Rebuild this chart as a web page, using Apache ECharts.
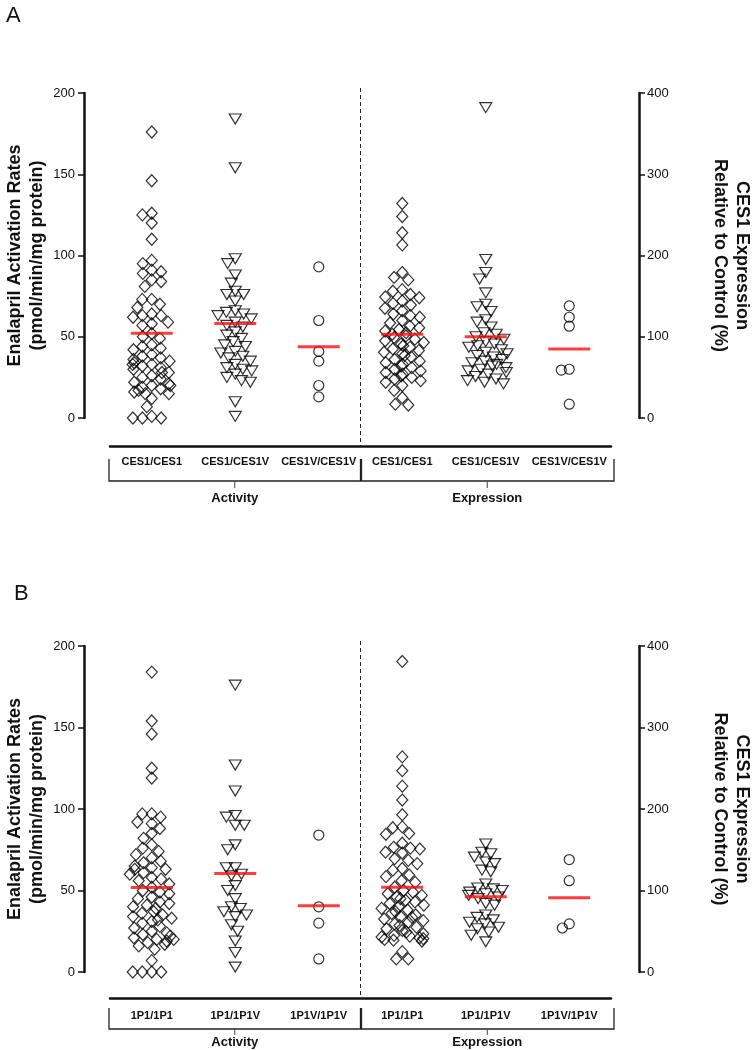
<!DOCTYPE html>
<html>
<head>
<meta charset="utf-8">
<title>Enalapril activation and CES1 expression by genotype</title>
<script src="https://cdn.jsdelivr.net/npm/echarts@6/dist/echarts.min.js"></script>
<style>
  html, body { margin: 0; padding: 0; background: #fff; }
  #chart { width: 754px; height: 1050px; }
</style>
</head>
<body>
<div id="chart"></div>
<script>
// category labels (activity groups then expression groups)
var catsA = ["CES1/CES1", "CES1/CES1V", "CES1V/CES1V", "CES1/CES1", "CES1/CES1V", "CES1V/CES1V"];
var catsB = ["1P1/1P1", "1P1/1P1V", "1P1V/1P1V", "1P1/1P1", "1P1/1P1V", "1P1V/1P1V"];
var leftTicks = [0, 50, 100, 150, 200];
var rightTicks = [0, 100, 200, 300, 400];

// panel A - activity (pmol/min/mg protein)
var actA_11 = [176, 146, 126, 125, 120, 110, 97, 95, 91, 90, 89, 85, 84, 81, 73, 73, 70, 68, 64, 63, 63, 62, 59, 58, 57, 52, 50, 49, 45, 44, 43, 42, 39, 38, 37, 36, 35, 34, 33, 33, 32, 31, 30, 28, 28, 26, 25, 24, 22, 21, 20, 20, 19, 18, 17, 16, 15, 15, 12, 7, 1, 0, 0, 0];
var actA_1V = [184, 154, 98, 95, 88, 83, 78, 76, 76, 72, 66, 65, 64, 63, 61, 59, 57, 56, 53, 51, 49, 47, 45, 44, 41, 40, 38, 37, 35, 33, 31, 30, 29, 27, 25, 23, 22, 10, 1];
var actA_VV = [93, 60, 41, 35, 20, 13];
// panel A - expression (% of control)
var expA_11 = [264, 248, 228, 213, 179, 173, 170, 158, 156, 152, 149, 148, 144, 141, 139, 135, 132, 128, 126, 124, 120, 117, 113, 111, 109, 107, 105, 103, 101, 99, 97, 95, 93, 91, 89, 87, 85, 83, 81, 79, 77, 75, 72, 70, 68, 66, 64, 62, 60, 58, 56, 54, 52, 50, 48, 46, 44, 40, 34, 25, 17, 16];
var expA_1V = [382, 195, 179, 171, 154, 140, 137, 131, 121, 118, 112, 105, 103, 100, 97, 94, 91, 89, 87, 84, 81, 79, 77, 75, 72, 70, 68, 66, 64, 62, 60, 58, 56, 54, 51, 48, 46, 44, 42];
var expA_VV = [138, 124, 113, 60, 59, 17];
var meanA = [52.2, 58.1, 43.8, 103, 100, 85];

// panel B - activity
var actB_11 = [184, 154, 146, 125, 119, 97, 97, 95, 92, 91, 88, 85, 82, 78, 76, 74, 72, 70, 68, 67, 65, 64, 63, 63, 61, 60, 58, 57, 56, 54, 52, 50, 49, 48, 46, 45, 43, 42, 41, 40, 39, 37, 36, 35, 34, 33, 32, 31, 30, 28, 27, 25, 24, 23, 22, 21, 20, 20, 19, 18, 17, 16, 14, 7, 0, 0, 0, 0];
var actB_1V = [176, 127, 111, 96, 95, 90, 90, 78, 75, 64, 64, 60, 59, 53, 50, 45, 40, 39, 37, 35, 34, 29, 25, 19, 12, 3];
var actB_VV = [84, 40, 30, 8];
// panel B - expression
var expB_11 = [381, 264, 247, 228, 211, 193, 178, 177, 170, 169, 158, 153, 152, 151, 147, 146, 139, 137, 133, 127, 125, 119, 117, 112, 110, 104, 100, 98, 96, 94, 92, 90, 88, 86, 84, 82, 80, 78, 76, 74, 72, 70, 68, 67, 65, 63, 61, 59, 57, 55, 53, 51, 49, 47, 45, 44, 43, 42, 41, 40, 39, 38, 25, 16, 16];
var expB_1V = [157, 147, 145, 141, 135, 133, 125, 123, 108, 103, 102, 100, 98, 96, 94, 92, 90, 84, 82, 70, 67, 64, 61, 59, 55, 53, 49, 45, 37];
var expB_VV = [138, 112, 59, 54];
var meanB = [51.9, 60.5, 40.7, 104, 92.4, 91];

// layout per panel: axis offset below the plot, bracket top/bottom, tick, group label (px below axis line)
var panels = [
  { cats: catsA, act: [actA_11, actA_1V, actA_VV], exp: [expA_11, expA_1V, expA_VV], mean: meanA,
    top: 93, height: 325, xOffset: 28, brk: [13, 35, 7, 52], labelMargin: 10 },
  { cats: catsB, act: [actB_11, actB_1V, actB_VV], exp: [expB_11, expB_1V, expB_VV], mean: meanB,
    top: 646, height: 326, xOffset: 26, brk: [10, 31, 6, 44], labelMargin: 12 }
];

var symbols = ["diamond", "triangle", "circle"];
var symbolSizes = [[11, 12], [12, 10], 10];
var symbolRotates = [0, 180, 0];
var font = "Liberation Sans, Arial, sans-serif";

var chart = echarts.init(document.getElementById("chart"), null, { renderer: "canvas" });

var grids = [], xAxes = [], yAxes = [], series = [];

panels.forEach(function (p, pi) {
  grids.push({ left: 110, width: 501, top: p.top, height: p.height, containLabel: false, outerBoundsMode: "none" });

  // visible category axis with jitter for the dots
  xAxes.push({
    type: "category",
    gridIndex: pi,
    data: p.cats,
    offset: p.xOffset,
    jitter: 44,
    jitterOverlap: false,
    jitterMargin: -2,
    axisLine: { onZero: false, lineStyle: { color: "#111", width: 2.5 } },
    axisTick: { alignWithLabel: true, length: 6, lineStyle: { color: "#111", width: 2 } },
    axisLabel: { margin: p.labelMargin, fontSize: 11, fontWeight: "bold", color: "#111", fontFamily: font, interval: 0 },
    splitLine: { show: false }
  });
  // hidden twin for the mean bars (no jitter)
  xAxes.push({ type: "category", gridIndex: pi, data: p.cats, show: false, axisLine: { onZero: false } });

  yAxes.push({
    type: "value",
    gridIndex: pi,
    position: "left",
    min: 0, max: 200, interval: 50,
    offset: 26,
    name: "Enalapril Activation Rates\n(pmol/min/mg protein)",
    nameLocation: "middle",
    nameGap: 36,
    nameMoveOverlap: false,
    nameTextStyle: { fontSize: 18, fontWeight: "bold", color: "#111", fontFamily: font, lineHeight: 22 },
    axisLine: { show: true, onZero: false, lineStyle: { color: "#111", width: 2.5 } },
    axisTick: { show: true, length: 6, lineStyle: { color: "#111", width: 1.5 } },
    axisLabel: { margin: 9, fontSize: 13, color: "#111", fontFamily: font, customValues: leftTicks },
    splitLine: { show: false }
  });
  yAxes.push({
    type: "value",
    gridIndex: pi,
    position: "right",
    min: 0, max: 400, interval: 100,
    offset: 28,
    name: "CES1 Expression\nRelative to Control (%)",
    nameLocation: "middle",
    nameRotate: -90,
    nameGap: 70,
    nameMoveOverlap: false,
    nameTextStyle: { fontSize: 18, fontWeight: "bold", color: "#111", fontFamily: font, lineHeight: 22 },
    axisLine: { show: true, onZero: false, lineStyle: { color: "#111", width: 2.5 } },
    axisTick: { show: true, length: 6, lineStyle: { color: "#111", width: 1.5 } },
    axisLabel: { margin: 8, fontSize: 13, color: "#111", fontFamily: font, customValues: rightTicks },
    splitLine: { show: false }
  });

  for (var g = 0; g < 3; g++) {
    [p.act[g], p.exp[g]].forEach(function (vals, k) {
      var catIdx = g + 3 * k;
      series.push({
        type: "scatter",
        xAxisIndex: 2 * pi,
        yAxisIndex: 2 * pi + k,
        symbol: symbols[g],
        symbolSize: symbolSizes[g],
        symbolRotate: symbolRotates[g],
        itemStyle: { color: "rgba(255,255,255,0)", borderColor: "#000", borderWidth: 1.2 },
        data: vals.map(function (v) { return [catIdx, v]; })
      });
    });
  }

  // mean bars
  [0, 1].forEach(function (k) {
    series.push({
      type: "scatter",
      xAxisIndex: 2 * pi + 1,
      yAxisIndex: 2 * pi + k,
      symbol: "rect",
      symbolSize: [42, 3],
      z: 5,
      itemStyle: { color: "#ff0d0d" },
      data: [0, 1, 2].map(function (g) { return [g + 3 * k, p.mean[g + 3 * k]]; })
    });
  });
});

var option = {
  backgroundColor: "#fff",
  animation: false,
  textStyle: { fontFamily: font },
  title: [
    { text: "A", left: 1, top: 0, textStyle: { fontSize: 22, fontWeight: "normal", color: "#111", fontFamily: font } },
    { text: "B", left: 9, top: 578, textStyle: { fontSize: 22, fontWeight: "normal", color: "#111", fontFamily: font } }
  ],
  grid: grids,
  xAxis: xAxes,
  yAxis: yAxes,
  series: series
};
chart.setOption(option);

// brackets, group labels and dashed separator, placed from the axes
var graphics = [];
panels.forEach(function (p, pi) {
  var xi = 2 * pi;
  var cx = function (i) { return chart.convertToPixel({ xAxisIndex: xi }, i); };
  var bottom = chart.convertToPixel({ yAxisIndex: 2 * pi }, 0);
  var top = chart.convertToPixel({ yAxisIndex: 2 * pi }, 200);
  var band = cx(1) - cx(0);
  var axisY = bottom + p.xOffset;
  var L = cx(0) - band / 2 - 1;
  var S = (cx(2) + cx(3)) / 2;
  var R = cx(5) + band / 2 + 3;
  var y1 = axisY + p.brk[0], y2 = axisY + p.brk[1];
  var lineStyle = { stroke: "#222", lineWidth: 1.3, fill: null };
  var labelStyle = function (t) {
    return { text: t, fill: "#111", font: "bold 13px " + font, align: "center", verticalAlign: "middle" };
  };

  graphics.push({ type: "polyline", silent: true, shape: { points: [[L, y1], [L, y2], [S, y2], [S, y1]] }, style: lineStyle });
  graphics.push({ type: "polyline", silent: true, shape: { points: [[S + 1, y1], [S + 1, y2], [R, y2], [R, y1]] }, style: lineStyle });
  graphics.push({ type: "line", silent: true, shape: { x1: (L + S) / 2, y1: y2, x2: (L + S) / 2, y2: y2 + p.brk[2] }, style: { stroke: "#444", lineWidth: 1 } });
  graphics.push({ type: "line", silent: true, shape: { x1: (S + R) / 2, y1: y2, x2: (S + R) / 2, y2: y2 + p.brk[2] }, style: { stroke: "#444", lineWidth: 1 } });
  graphics.push({ type: "text", silent: true, x: (L + S) / 2, y: axisY + p.brk[3], style: labelStyle("Activity") });
  graphics.push({ type: "text", silent: true, x: (S + R) / 2, y: axisY + p.brk[3], style: labelStyle("Expression") });
  graphics.push({ type: "line", silent: true, shape: { x1: S, y1: top - 5, x2: S, y2: axisY }, style: { stroke: "#222", lineWidth: 1, lineDash: [4, 3] } });
});
chart.setOption({ graphic: graphics });
</script>
</body>
</html>
